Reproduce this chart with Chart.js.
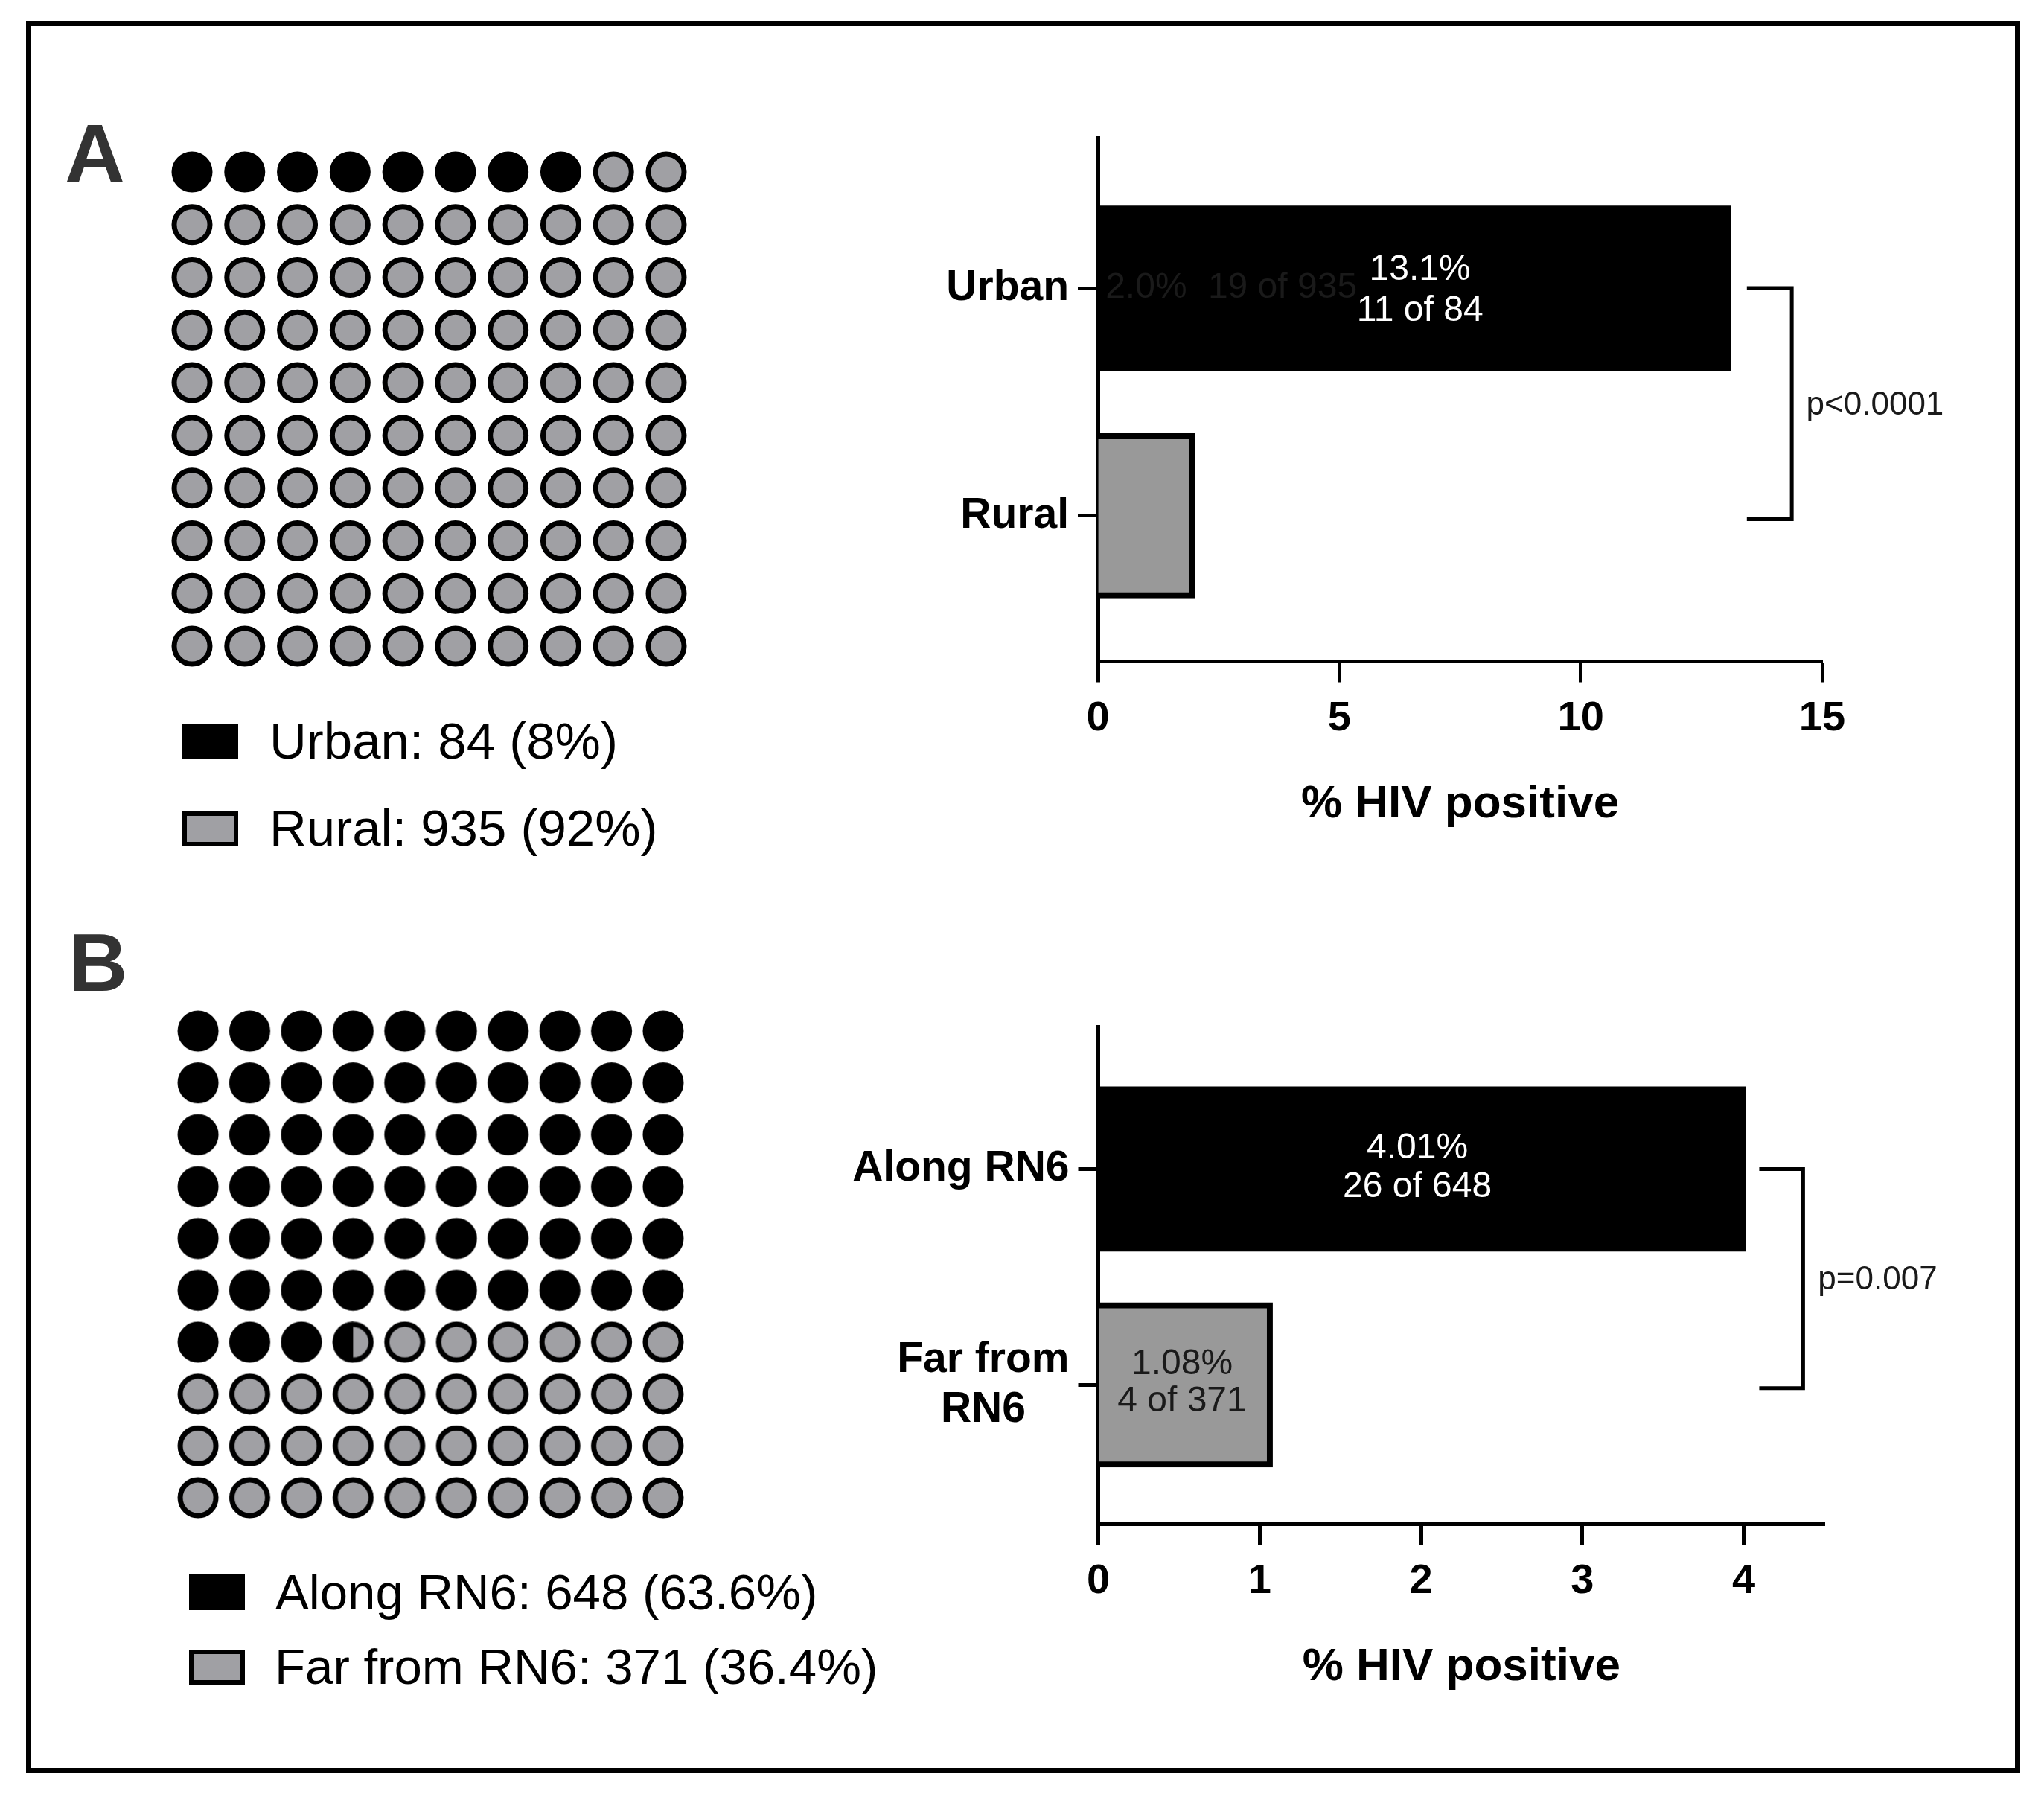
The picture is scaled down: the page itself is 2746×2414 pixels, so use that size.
<!DOCTYPE html>
<html><head><meta charset="utf-8">
<script src="https://cdn.jsdelivr.net/npm/chart.js@4"></script>
<style>
html,body{margin:0;padding:0;background:#fff;width:2746px;height:2414px;overflow:hidden}
canvas{position:absolute}
.t{position:absolute;font-family:"Liberation Sans";line-height:1;white-space:pre;color:#000}
.box{position:absolute;box-sizing:border-box}
</style></head><body>
<script>
// ---------- data ----------
const wholeCountsA = [8, 92];            // circles out of 100: urban, rural
const wholeCountsB = [63, 36];           // circles out of 100: along, far
const halfCountB = 1;                    // the split circle
const categoriesA = ['Urban', 'Rural'];
const categoriesB = ['Along RN6', ['Far from', 'RN6']];
const valuesA = [13.1, 2.0];
const valuesB = [4.01, 1.08];
const xTicksMaxA = 15, xTickStepA = 5;
const xTicksMaxB = 4.5, xTickStepB = 1;
const legendA = ['Urban: 84 (8%)', 'Rural: 935 (92%)'];
const legendB = ['Along RN6: 648 (63.6%)', 'Far from RN6: 371 (36.4%)'];
const axisTitle = '% HIV positive';
const notesA = [
  {t:'13.1%', x:6.67, y:-0.08, c:'#fff'}, {t:'11 of 84', x:6.67, y:0.10, c:'#fff'},
  {t:'2.0%', x:1.0, y:0.0, c:'#1a1a1a'}, {t:'19 of 935', x:2.28, y:0.0, c:'#1a1a1a', a:'left'},
  {t:'p<0.0001', x:14.67, y:0.515, c:'#1a1a1a', a:'left', s:44}
];
const notesB = [
  {t:'4.01%', x:1.977, y:-0.094, c:'#fff'}, {t:'26 of 648', x:1.977, y:0.083, c:'#fff'},
  {t:'1.08%', x:0.519, y:0.906, c:'#1a1a1a'}, {t:'4 of 371', x:0.519, y:1.078, c:'#1a1a1a'},
  {t:'p=0.007', x:4.46, y:0.516, c:'#1a1a1a', a:'left', s:44}
];
const bracketA = {x0:13.44, x1:14.37, y0:0, y1:1.015};
const bracketB = {x0:4.096, x1:4.368, y0:0, y1:1.015};
// ---------- styles ----------
const FONT = '"Liberation Sans"';
const BLACK = '#000000', DOT_GREY = '#a0a0a4', BAR_GREY = '#999999';
Chart.defaults.font.family = FONT;
Chart.defaults.color = '#000';

function addCanvas(l, t, w, h) {
  const c = document.createElement('canvas');
  c.width = w; c.height = h;
  c.style.cssText = `left:${l}px;top:${t}px;width:${w}px;height:${h}px`;
  document.body.appendChild(c);
  return c;
}
function addText(text, left, baseline, size, opts = {}) {
  const d = document.createElement('div');
  d.className = 't'; d.textContent = text;
  d.style.left = left + 'px';
  d.style.top = (baseline - 0.8465 * size) + 'px';
  d.style.fontSize = size + 'px';
  if (opts.bold) d.style.fontWeight = 'bold';
  if (opts.color) d.style.color = opts.color;
  document.body.appendChild(d);
}
function addSwatch(l, t, w, h, grey) {
  const d = document.createElement('div');
  d.className = 'box';
  d.style.cssText += `left:${l}px;top:${t}px;width:${w}px;height:${h}px;background:${grey ? DOT_GREY : BLACK};border:6px solid #000`;
  document.body.appendChild(d);
}
function splitDot() {
  const c = document.createElement('canvas');
  c.width = c.height = 56;
  const x = c.getContext('2d');
  x.beginPath(); x.arc(28, 28, 24, 0, 2 * Math.PI);
  x.fillStyle = DOT_GREY; x.fill();
  x.beginPath(); x.arc(28, 28, 27.5, Math.PI / 2, 3 * Math.PI / 2); x.closePath();
  x.fillStyle = BLACK; x.fill();
  x.beginPath(); x.arc(28, 28, 24, 0, 2 * Math.PI);
  x.lineWidth = 7; x.strokeStyle = BLACK; x.stroke();
  return c;
}
function cellPoints(from, count) {
  const pts = [];
  for (let i = from; i < from + count; i++) pts.push({x: i % 10, y: Math.floor(i / 10)});
  return pts;
}
function waffle(area, blackN, halfN, greyN, names) {
  const pad = 40;
  const c = addCanvas(area.l - pad, area.t - pad, area.r - area.l + 2 * pad, area.b - area.t + 2 * pad);
  const ds = [
    {label: names[0], data: cellPoints(0, blackN), pointRadius: 24, pointBorderWidth: 7, pointBackgroundColor: BLACK, pointBorderColor: BLACK, clip: false},
    {label: names[1], data: cellPoints(blackN + halfN, greyN), pointRadius: 24, pointBorderWidth: 7, pointBackgroundColor: DOT_GREY, pointBorderColor: BLACK, clip: false}
  ];
  if (halfN) ds.push({label: 'split', data: cellPoints(blackN, halfN), pointRadius: 24, pointStyle: splitDot(), clip: false});
  new Chart(c, {type: 'scatter', data: {datasets: ds}, options: {
    responsive: false, animation: false, devicePixelRatio: 1,
    layout: {padding: pad, autoPadding: false},
    plugins: {legend: {display: false}, tooltip: {enabled: false}},
    events: [],
    scales: {x: {display: false, min: 0, max: 9}, y: {display: false, min: 0, max: 9, reverse: true}}
  }});
}
const notesPlugin = {
  id: 'notes',
  beforeDraw(chart) {
    const s = chart.scales.y, ctx = chart.ctx;
    ctx.save();
    ctx.font = `bold ${s.options.ticks.font.size}px ${FONT}`;
    s.getLabelItems().forEach(it => {
      if (!Array.isArray(it.label)) return;
      const w = Math.max(...it.label.map(l => ctx.measureText(l).width));
      it.options.textAlign = 'center';
      it.options.translation[0] -= w / 2;
    });
    ctx.restore();
  },
  afterDatasetsDraw(chart, _a, o) {
    const {ctx, scales: {x, y}} = chart;
    ctx.save();
    ctx.strokeStyle = BLACK; ctx.lineWidth = 5; ctx.lineJoin = 'miter';
    const b = o.bracket;
    ctx.beginPath();
    ctx.moveTo(x.getPixelForValue(b.x0), y.getPixelForValue(b.y0));
    ctx.lineTo(x.getPixelForValue(b.x1), y.getPixelForValue(b.y0));
    ctx.lineTo(x.getPixelForValue(b.x1), y.getPixelForValue(b.y1));
    ctx.lineTo(x.getPixelForValue(b.x0), y.getPixelForValue(b.y1));
    ctx.stroke();
    ctx.textBaseline = 'middle';
    o.notes.forEach(n => {
      ctx.font = `${n.s || 48}px ${FONT}`;
      ctx.fillStyle = n.c;
      ctx.textAlign = n.a || 'center';
      ctx.fillText(n.t, x.getPixelForValue(n.x), y.getPixelForValue(n.y));
    });
    ctx.restore();
  }
};
function hbar(box, area, cats, vals, xMax, step, yMin, yMax, titlePad, notes, bracket) {
  const c = addCanvas(box.l, box.t, box.r - box.l, box.b - box.t);
  new Chart(c, {
    type: 'bar',
    data: {datasets: [{
      data: vals.map((v, i) => ({x: v, y: i})),
      backgroundColor: [BLACK, BAR_GREY],
      borderColor: BLACK,
      borderWidth: [0, 8],
      barThickness: 221
    }]},
    plugins: [notesPlugin],
    options: {
      indexAxis: 'y', responsive: false, animation: false, devicePixelRatio: 1,
      events: [],
      layout: {autoPadding: false, padding: {left: 0, top: area.t - box.t, right: box.r - area.r, bottom: 0}},
      plugins: {legend: {display: false}, tooltip: {enabled: false}, notes: {notes, bracket}},
      scales: {
        x: {
          type: 'linear', min: 0, max: xMax, position: 'bottom',
          afterFit: s => { s.height = box.b - area.b; },
          border: {display: true, width: 5, color: BLACK},
          grid: {drawOnChartArea: false, drawTicks: true, tickLength: 28, tickWidth: 5, tickColor: BLACK},
          ticks: {stepSize: step, includeBounds: false, maxRotation: 0, padding: 15, color: BLACK, font: {size: 56, weight: 'bold'}},
          title: {display: true, text: axisTitle, color: BLACK, font: {size: 62, weight: 'bold'}, padding: {top: 0, bottom: titlePad}}
        },
        y: {
          type: 'linear', min: yMin, max: yMax, reverse: true, position: 'left', offset: false,
          afterFit: s => { s.width = area.l - box.l; },
          afterBuildTicks: s => { s.ticks = cats.map((_, i) => ({value: i})); },
          border: {display: true, width: 5, color: BLACK},
          grid: {offset: false, drawOnChartArea: false, drawTicks: true, tickLength: 27, tickWidth: 5, tickColor: BLACK},
          ticks: {autoSkip: false, padding: 12, color: BLACK, callback: v => cats[v], font: {size: 57, weight: 'bold', lineHeight: 1.18}}
        }
      }
    }
  });
}
// ---------- frame ----------
const frame = document.createElement('div');
frame.className = 'box';
frame.style.cssText += 'left:35px;top:28px;width:2679px;height:2354px;border:7px solid #000';
document.body.appendChild(frame);
// ---------- panel A ----------
addText('A', 87, 246, 112, {bold: true, color: '#333'});
waffle({l: 258, r: 895, t: 231, b: 868}, wholeCountsA[0], 0, wholeCountsA[1], categoriesA);
addSwatch(245, 972, 75, 47, false); addText(legendA[0], 362, 1019, 69);
addSwatch(245, 1090, 75, 47, true); addText(legendA[1], 362, 1136.5, 69);
hbar({l: 1100, t: 140, r: 2690, b: 1150}, {l: 1475, t: 180.6, r: 2448, b: 888.5},
  categoriesA, valuesA, xTicksMaxA, xTickStepA, -0.659, 1.64, 32, notesA, bracketA);
// ---------- panel B ----------
addText('B', 92, 1331, 110, {bold: true, color: '#333'});
waffle({l: 266, r: 890.5, t: 1385, b: 2011.6}, wholeCountsB[0], halfCountB, wholeCountsB[1], ['Along RN6', 'Far from RN6']);
addSwatch(253.5, 2115, 75, 48, false); addText(legendB[0], 370, 2162, 67.2);
addSwatch(253.5, 2216, 75, 47, true); addText(legendB[1], 369, 2262, 67.2);
hbar({l: 1100, t: 1300, r: 2690, b: 2320}, {l: 1475.5, t: 1338, r: 2451, b: 2047.5},
  categoriesB, valuesB, xTicksMaxB, xTickStepB, -0.659, 1.645, 43, notesB, bracketB);
</script>
</body></html>
